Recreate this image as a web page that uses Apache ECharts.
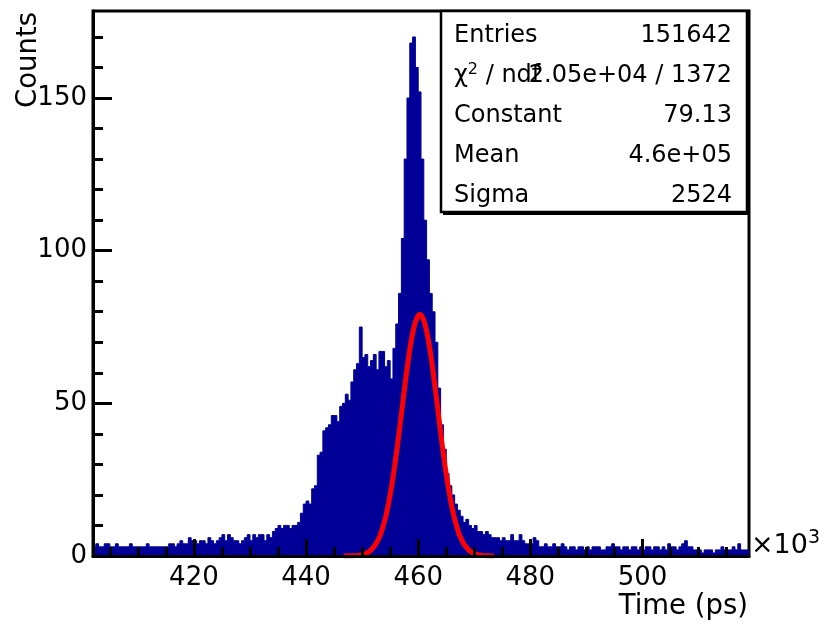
<!DOCTYPE html>
<html><head><meta charset="utf-8">
<script src="https://cdn.jsdelivr.net/npm/echarts@6/dist/echarts.min.js"></script>
<style>html,body{margin:0;padding:0;background:#fff}#c{width:819px;height:625px}</style>
</head><body><div id="c"></div>
<script>
// ---- data ----
const binStart = 402;
const binWidth = 0.5;
const counts = [
  3,4,3,3,4,4,3,3,4,3,3,3,
  3,4,3,3,3,3,3,4,3,3,3,3,
  3,3,3,4,4,3,4,5,4,4,6,5,
  5,4,5,5,4,6,5,4,5,6,7,5,
  7,6,5,5,4,5,6,7,5,7,6,7,
  7,5,7,6,8,9,10,9,10,10,9,10,
  10,11,14,17,18,17,22,23,33,34,41,42,
  43,46,46,44,49,50,53,51,57,61,63,75,
  65,66,62,64,66,61,67,67,62,64,58,68,
  76,86,104,130,150,168,170,160,152,130,110,97,
  86,80,70,55,43,35,27,23,20,17,15,13,
  11,12,10,9,10,8,8,7,8,7,6,6,
  6,5,6,5,5,7,5,5,7,5,4,4,
  4,6,5,3,3,4,3,3,4,3,3,4,
  3,2,3,3,2,3,3,2,3,2,3,3,
  3,2,2,3,3,4,3,3,2,3,3,2,
  3,3,2,3,2,3,3,2,3,3,2,3,
  2,4,3,3,2,3,4,5,3,3,2,2,
  2,1,2,2,2,1,2,2,3,2,2,2,
  3,2,4,2,2,2
];
const fitX = [446.7,448.3,449.3,450.3,451.3,452.3,452.8,453.3,453.8,454.3,454.8,455.3,455.8,456.3,456.8,457.3,457.8,458.3,458.8,459.3,459.8,460.3,
              460.8,461.3,461.8,462.3,462.8,463.3,463.8,464.3,464.8,465.3,465.8,466.3,466.8,467.3,467.8,468.3,469.3,470.3,471.3,472.3,473.5];
const fitY = [0,0.07,0.2,0.6,1.5,3.5,5.1,7.2,10.1,13.6,18.1,23.3,29.4,36.2,43.5,51.0,58.3,65.1,70.9,75.3,78.1,79.1,
              78.1,75.3,70.9,65.1,58.3,51.0,43.5,36.2,29.4,23.3,18.1,13.6,10.1,7.2,5.1,3.5,1.5,0.6,0.2,0.07,0];
const xRange = [402, 519];
const yRange = [0, 178.5];
const xMajorTicks = [420,440,460,480,500];
const xMinorTicks = [405,410,415,425,430,435,445,450,455,465,470,475,485,490,495,505,510,515];
const yMajorTicks = [0,50,100,150];
const yMinorTicks = [10,20,30,40,60,70,80,90,110,120,130,140,160,170];
const statsLabels = ['Entries','{t|χ}{s|2}{t| / ndf}','Constant','Mean','Sigma'];
const statsValues = ['151642','2.05e+04 / 1372','79.13','4.6e+05','2524'];
const xTitle = 'Time (ps)';
const yTitle = 'Counts';
const xExponent = '{t|×10}{s|3}';

// ---- chart ----
const FONT = 'DejaVu Sans';
const histPts = counts.map((c,i)=>[binStart+i*binWidth, c]);
histPts.push([binStart+counts.length*binWidth, counts[counts.length-1]]);
const fitPts = fitX.map((x,i)=>[x, fitY[i]]);

const lineBlack = {color:'#000', width:3};
function xAx(ticks, len, labels){
  return {type:'value', min:xRange[0], max:xRange[1], position:'bottom', z:10,
    axisLine:{show:!labels, onZero:false, lineStyle:lineBlack},
    axisTick:{show:true, inside:true, length:len, customValues:ticks, lineStyle:lineBlack},
    axisLabel:labels?{show:true, customValues:ticks, fontFamily:FONT, fontSize:26, color:'#000', margin:9}:{show:false},
    splitLine:{show:false}};
}
function yAx(ticks, len, labels){
  return {type:'value', min:yRange[0], max:yRange[1], position:'left', z:10,
    axisLine:{show:!labels, onZero:false, lineStyle:lineBlack},
    axisTick:{show:true, inside:true, length:len, customValues:ticks, lineStyle:lineBlack},
    axisLabel:labels?{show:true, customValues:ticks, fontFamily:FONT, fontSize:26, color:'#000', margin:6}:{show:false},
    splitLine:{show:false}};
}
const graphics = [];
graphics.push({type:'rect', z:100, shape:{x:443, y:13, width:306, height:202}, style:{fill:'#000'}});
graphics.push({type:'rect', z:101, shape:{x:441, y:11, width:306, height:201}, style:{fill:'#fff', stroke:'#000', lineWidth:2.5}});
statsLabels.forEach((s,i)=>{
  graphics.push({type:'text', z:102, x:454, y:36+40*i, style:{text:s, font:'24px "'+FONT+'"', fill:'#000', textAlign:'left', textVerticalAlign:'middle',
    rich:{t:{fontFamily:FONT, fontSize:24, fill:'#000'}, s:{fontFamily:FONT, fontSize:16, fill:'#000', padding:[0,0,13,0]}}}});
  graphics.push({type:'text', z:102, x:732, y:36+40*i, style:{text:statsValues[i], font:'24px "'+FONT+'"', fill:'#000', textAlign:'right', textVerticalAlign:'middle'}});
});
graphics.push({type:'text', z:102, x:748, y:607, style:{text:xTitle, font:'27.5px "'+FONT+'"', fill:'#000', textAlign:'right', textVerticalAlign:'middle'}});
graphics.push({type:'text', z:102, x:29, y:60, rotation:Math.PI/2, style:{text:yTitle, font:'27.5px "'+FONT+'"', fill:'#000', textAlign:'center', textVerticalAlign:'middle'}});
graphics.push({type:'text', z:102, x:751, y:546, style:{text:xExponent, fill:'#000', textAlign:'left', textVerticalAlign:'middle',
  rich:{t:{fontFamily:FONT, fontSize:27, fill:'#000'}, s:{fontFamily:FONT, fontSize:19, fill:'#000', padding:[0,0,16,0]}}}});

const chart = echarts.init(document.getElementById('c'), null, {renderer:'canvas'});
chart.setOption({
  animation:false,
  backgroundColor:'#fff',
  grid:{left:93, right:70, top:11, bottom:69, show:true, borderColor:'#000', borderWidth:3, backgroundColor:'#fff'},
  xAxis:[xAx(xMinorTicks,9,false), xAx(xMajorTicks,17,true)],
  yAxis:[yAx(yMinorTicks,10,false), yAx(yMajorTicks,19,true)],
  series:[
    {type:'line', xAxisIndex:0, yAxisIndex:0, step:'end', data:histPts, symbol:'none', z:2,
      lineStyle:{color:'#000099', width:1}, areaStyle:{color:'#000099', opacity:1}, itemStyle:{color:'#000099'}},
    {type:'line', xAxisIndex:0, yAxisIndex:0, data:fitPts, symbol:'none', smooth:0.3, z:3,
      lineStyle:{color:'#ff0000', width:5}, itemStyle:{color:'#ff0000'}}
  ],
  graphic:graphics
});
</script></body></html>
